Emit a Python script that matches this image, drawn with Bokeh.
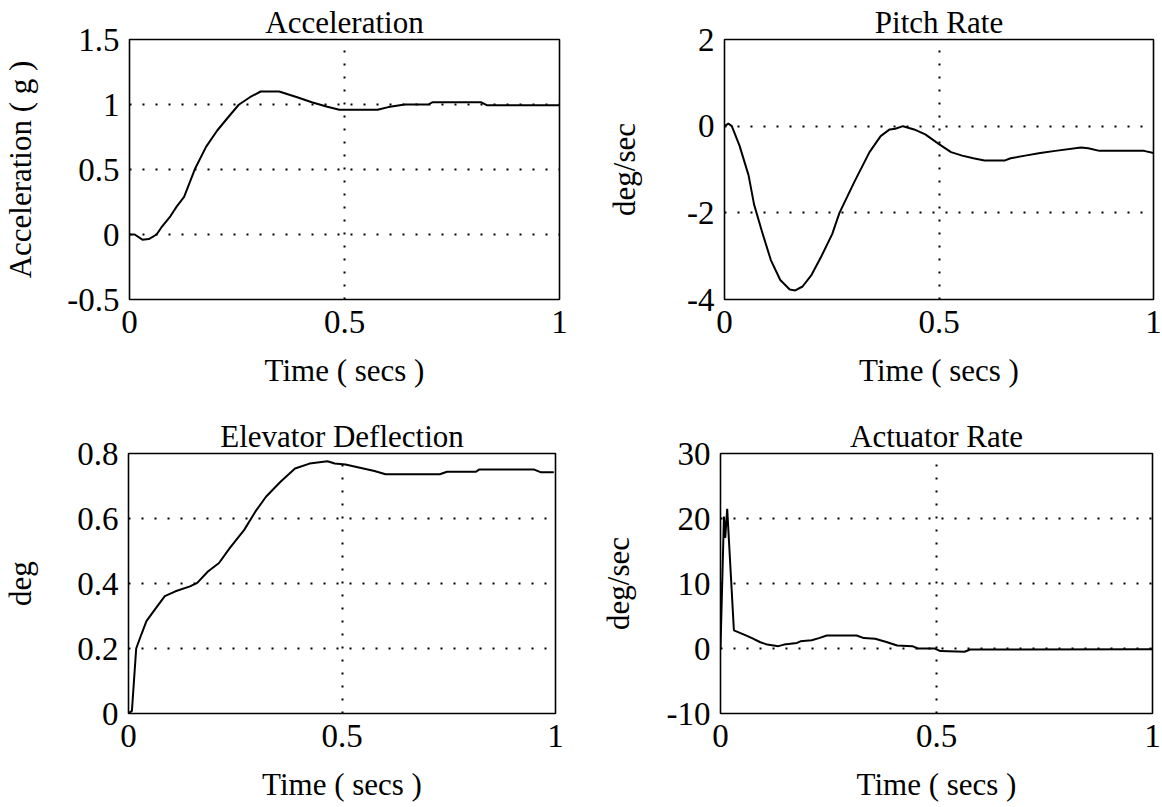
from bokeh.plotting import figure
from bokeh.layouts import column, row
from bokeh.models import Range1d, FixedTicker, NumeralTickFormatter
from bokeh.embed import file_html
from bokeh.resources import INLINE

FONT = "Liberation Serif"

# ---- data ----
x_ticks = [0, 0.5, 1]
x_label = "Time ( secs )"

t_acc = [0, 0.012, 0.03, 0.045, 0.063, 0.076, 0.095, 0.11, 0.127, 0.153, 0.178,
         0.204, 0.229, 0.254, 0.28, 0.305, 0.348, 0.39, 0.424, 0.458, 0.488,
         0.577, 0.602, 0.64, 0.695, 0.704, 0.818, 0.831, 1.0]
acc = [0, 0, -0.04, -0.035, 0, 0.063, 0.14, 0.216, 0.29, 0.51, 0.674,
       0.80, 0.90, 0.998, 1.056, 1.10, 1.10, 1.056, 1.017, 0.985, 0.96,
       0.96, 0.98, 1.0, 1.0, 1.017, 1.017, 0.995, 0.995]
acc_ticks = [-0.5, 0, 0.5, 1, 1.5]

t_q = [0, 0.009, 0.017, 0.035, 0.056, 0.069, 0.087, 0.108, 0.13, 0.152, 0.165,
       0.182, 0.203, 0.225, 0.251, 0.268, 0.303, 0.338, 0.364, 0.385, 0.398,
       0.416, 0.442, 0.468, 0.5, 0.528, 0.554, 0.58, 0.606, 0.654, 0.667,
       0.701, 0.736, 0.771, 0.831, 0.848, 0.874, 0.978, 1.0]
q = [0, 0.06, 0, -0.45, -1.13, -1.81, -2.42, -3.09, -3.55, -3.77, -3.79,
     -3.70, -3.43, -3.02, -2.49, -2.0, -1.28, -0.60, -0.23, -0.075, -0.06,
     0, -0.075, -0.19, -0.415, -0.60, -0.68, -0.74, -0.79, -0.79, -0.74,
     -0.68, -0.62, -0.57, -0.49, -0.51, -0.57, -0.57, -0.62]
q_ticks = [-4, -2, 0, 2]

t_de = [0, 0.008, 0.018, 0.030, 0.042, 0.059, 0.085, 0.110, 0.144, 0.161, 0.186,
        0.212, 0.237, 0.271, 0.297, 0.322, 0.356, 0.39, 0.424, 0.466, 0.483,
        0.508, 0.542, 0.576, 0.602, 0.729, 0.746, 0.814, 0.822, 0.949, 0.966, 0.996]
de = [0, 0.008, 0.200, 0.243, 0.284, 0.315, 0.361, 0.376, 0.391, 0.402, 0.437,
      0.463, 0.509, 0.565, 0.621, 0.667, 0.713, 0.754, 0.769, 0.776, 0.769,
      0.766, 0.756, 0.746, 0.736, 0.736, 0.744, 0.744, 0.751, 0.751, 0.742, 0.742]
de_ticks = [0, 0.2, 0.4, 0.6, 0.8]

t_ar = [0, 0.008, 0.011, 0.0155, 0.031, 0.056, 0.073, 0.091, 0.108, 0.134,
        0.147, 0.177, 0.185, 0.211, 0.228, 0.246, 0.315, 0.332, 0.358, 0.384,
        0.409, 0.444, 0.457, 0.496, 0.509, 0.565, 0.578, 1.0]
ar = [0, 20.3, 17.0, 21.5, 2.8, 2.1, 1.6, 1.0, 0.6, 0.36,
      0.6, 0.86, 1.1, 1.27, 1.6, 2.0, 2.0, 1.6, 1.5, 1.0,
      0.46, 0.36, 0.0, 0.0, -0.4, -0.5, -0.15, -0.1]
ar_ticks = [-10, 0, 10, 20, 30]


def make_panel(t, y, yticks, title, ylabel, width, height, borders,
               ylabel_standoff):
    left, right, top, bottom = borders
    p = figure(width=width, height=height, output_backend="svg",
               toolbar_location=None,
               x_range=Range1d(0, 1), y_range=Range1d(yticks[0], yticks[-1]),
               min_border_left=left, min_border_right=right,
               min_border_top=top, min_border_bottom=bottom,
               background_fill_color="white", border_fill_color="white")
    p.outline_line_color = "black"
    p.outline_line_width = 1.6
    p.outline_line_alpha = 1.0

    p.title.text = title
    p.title.align = "center"
    p.title.text_font = FONT
    p.title.text_font_size = "31px"
    p.title.text_font_style = "normal"
    p.title.text_color = "black"
    p.title.standoff = 0

    p.xaxis.ticker = FixedTicker(ticks=x_ticks)
    p.yaxis.ticker = FixedTicker(ticks=yticks)
    for ax in (p.xaxis[0], p.yaxis[0]):
        ax.formatter = NumeralTickFormatter(format="0.[0]")
        ax.major_tick_in = 0
        ax.major_tick_out = 0
        ax.minor_tick_in = 0
        ax.minor_tick_out = 0
        ax.axis_line_color = None
        ax.major_label_text_font = FONT
        ax.major_label_text_font_size = "33px"
        ax.major_label_text_color = "black"
        ax.axis_label_text_font = FONT
        ax.axis_label_text_font_size = "31px"
        ax.axis_label_text_font_style = "normal"
        ax.axis_label_text_color = "black"
    p.xaxis.axis_label = x_label
    p.yaxis.axis_label = ylabel
    p.xaxis.major_label_standoff = 11
    p.xaxis.axis_label_standoff = 17
    p.yaxis.major_label_standoff = 10
    p.yaxis.axis_label_standoff = ylabel_standoff

    p.xgrid.ticker = FixedTicker(ticks=[0.5])
    p.ygrid.ticker = FixedTicker(ticks=yticks[1:-1])
    for g in (p.xgrid[0], p.ygrid[0]):
        g.grid_line_color = "black"
        g.grid_line_width = 2
        g.grid_line_dash = "2 11"
        g.grid_line_alpha = 1.0

    p.line(t, y, line_color="black", line_width=2)
    return p


p1 = make_panel(t_acc, acc, acc_ticks, "Acceleration", "Acceleration ( g )",
                594, 405, (126, 35, 38, 106), 26)
p2 = make_panel(t_q, q, q_ticks, "Pitch Rate", "deg/sec",
                568, 405, (130, 9, 39, 106), 42)
p3 = make_panel(t_de, de, de_ticks, "Elevator Deflection", "deg",
                590, 401, (119, 35, 47, 93), 36)
p4 = make_panel(t_ar, ar, ar_ticks, "Actuator Rate", "deg/sec",
                572, 401, (130, 10, 48, 93), 28)

layout = column(row(p1, p2), row(p3, p4))

open("out.html", "w").write(file_html(layout, INLINE))
